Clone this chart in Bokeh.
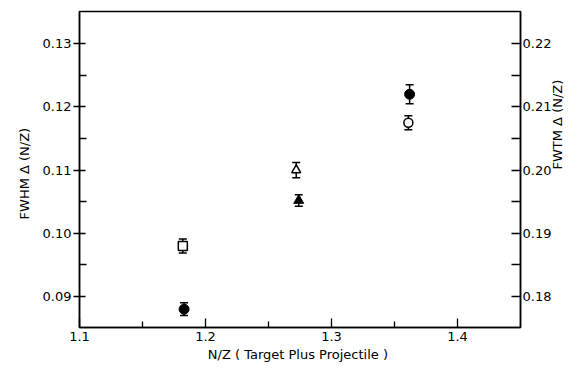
import math
from bokeh.plotting import figure
from bokeh.models import (Range1d, LinearAxis, FixedTicker, PrintfTickFormatter,
                          ColumnDataSource, Whisker, TeeHead)
from bokeh.embed import file_html
from bokeh.resources import INLINE

# FWHM (filled symbols, left axis)
fwhm_x = [1.183, 1.274, 1.362]
fwhm_y = [0.0880, 0.1052, 0.1220]
fwhm_err = [0.0010, 0.0009, 0.0015]
fwhm_marker = ["circle", "triangle", "circle"]

# FWTM (open symbols, right axis)
fwtm_x = [1.182, 1.272, 1.361]
fwtm_y = [0.1880, 0.2000, 0.2075]
fwtm_err = [0.0011, 0.0012, 0.0011]
fwtm_marker = ["square", "triangle", "circle"]

left_ticks = [0.09, 0.10, 0.11, 0.12, 0.13]
left_minor = [0.095, 0.105, 0.115, 0.125]
right_ticks = [0.18, 0.19, 0.20, 0.21, 0.22]
right_minor = [0.185, 0.195, 0.205, 0.215]
x_ticks = [1.1, 1.2, 1.3, 1.4]
x_minor = [1.15, 1.25, 1.35]

FONT = "DejaVu Sans"

p = figure(width=575, height=366, output_backend="svg", toolbar_location=None,
           x_range=Range1d(1.1, 1.45), y_range=Range1d(0.0851, 0.1351),
           min_border_left=79, min_border_right=52, min_border_top=11,
           min_border_bottom=39)
p.extra_y_ranges = {"right": Range1d(0.1751, 0.2251)}
p.xgrid.visible = False
p.ygrid.visible = False
p.outline_line_color = "black"
p.outline_line_width = 1.5
p.background_fill_color = "white"
p.border_fill_color = "white"

# x axis
xa = p.xaxis[0]
xa.ticker = FixedTicker(ticks=x_ticks, minor_ticks=x_minor)
xa.formatter = PrintfTickFormatter(format="%.1f")
xa.axis_label = "N/Z  ( Target Plus Projectile )"

# left axis
ya = p.yaxis[0]
ya.ticker = FixedTicker(ticks=left_ticks, minor_ticks=left_minor)
ya.formatter = PrintfTickFormatter(format="%.2f")
ya.axis_label = "FWHM   \u0394 (N/Z)"

# right axis
ra = LinearAxis(y_range_name="right",
                ticker=FixedTicker(ticks=right_ticks, minor_ticks=right_minor),
                formatter=PrintfTickFormatter(format="%.2f"),
                axis_label="FWTM  \u0394 (N/Z)")
p.add_layout(ra, "right")

for ax in [xa, ya, ra]:
    ax.axis_line_color = "black"
    ax.axis_line_width = 1.5
    ax.major_tick_line_color = "black"
    ax.minor_tick_line_color = "black"
    ax.major_tick_line_width = 1.3
    ax.minor_tick_line_width = 1.3
    ax.major_label_text_font = FONT
    ax.major_label_text_font_size = "13px"
    ax.major_label_text_color = "black"
    ax.axis_label_text_font = FONT
    ax.axis_label_text_font_size = "13px"
    ax.axis_label_text_font_style = "normal"
    ax.axis_label_text_color = "black"

xa.major_tick_in = 9
xa.major_tick_out = 0
xa.minor_tick_in = 6
xa.minor_tick_out = 0
xa.major_label_standoff = 4
xa.axis_label_standoff = 3

ya.major_tick_in = 6
ya.major_tick_out = 6
ya.minor_tick_in = 7
ya.minor_tick_out = 0
ya.major_label_standoff = 2
ya.axis_label_standoff = 8

ra.major_tick_in = 9
ra.major_tick_out = 0
ra.minor_tick_in = 9
ra.minor_tick_out = 0
ra.major_label_standoff = 2
ra.axis_label_standoff = 3
ra.axis_label_orientation = math.pi / 2

# FWHM points
src_h = ColumnDataSource(dict(x=fwhm_x, y=fwhm_y, m=fwhm_marker,
                              lo=[v - e for v, e in zip(fwhm_y, fwhm_err)],
                              hi=[v + e for v, e in zip(fwhm_y, fwhm_err)]))
wh = Whisker(source=src_h, base="x", lower="lo", upper="hi", line_color="black",
             line_width=1.5,
             lower_head=TeeHead(size=8, line_color="black", line_width=1.5),
             upper_head=TeeHead(size=8, line_color="black", line_width=1.5))
p.add_layout(wh)
p.scatter("x", "y", marker="m", source=src_h, size=10, fill_color="black",
          line_color="black", line_width=1)

# FWTM points
src_t = ColumnDataSource(dict(x=fwtm_x, y=fwtm_y, m=fwtm_marker,
                              lo=[v - e for v, e in zip(fwtm_y, fwtm_err)],
                              hi=[v + e for v, e in zip(fwtm_y, fwtm_err)]))
wt = Whisker(source=src_t, base="x", lower="lo", upper="hi", line_color="black",
             line_width=1.5, y_range_name="right",
             lower_head=TeeHead(size=8, line_color="black", line_width=1.5),
             upper_head=TeeHead(size=8, line_color="black", line_width=1.5))
p.add_layout(wt)
p.scatter("x", "y", marker="m", source=src_t, size=9, fill_color="white",
          line_color="black", line_width=1.5, y_range_name="right")

open("out.html", "w").write(file_html(p, INLINE))
